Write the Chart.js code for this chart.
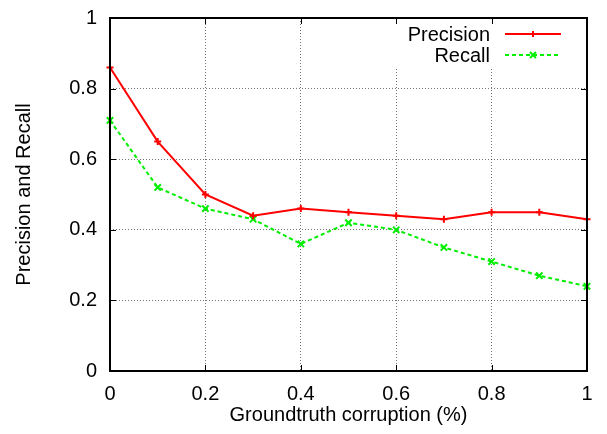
<!DOCTYPE html>
<html>
<head>
<meta charset="utf-8">
<script src="https://cdn.jsdelivr.net/npm/chart.js@4.4.1/dist/chart.umd.min.js"></script>
<style>
  html, body { margin: 0; padding: 0; background: #fff; }
  #wrap { width: 607px; height: 434px; }
</style>
</head>
<body>
<div id="wrap"><canvas id="prChart" width="607" height="434"></canvas></div>
<script>
// data
const corruption = [0, 0.1, 0.2, 0.3, 0.4, 0.5, 0.6, 0.7, 0.8, 0.9, 1.0];
const precision = [0.86, 0.65, 0.50, 0.44, 0.46, 0.45, 0.44, 0.43, 0.45, 0.45, 0.43];
const recall = [0.71, 0.52, 0.46, 0.43, 0.36, 0.42, 0.40, 0.35, 0.31, 0.27, 0.24];
const axisTicks = [0, 0.2, 0.4, 0.6, 0.8, 1];
const seriesNames = ['Precision', 'Recall'];

const FONT = '"Liberation Sans", Arial, Helvetica, sans-serif';
const RED = '#ff0000';
const GREEN = '#00ee00';

const toPoints = (ys) => corruption.map((x, i) => ({ x: x, y: ys[i] }));

// grid only inside, not on the frame
const gridColor = (ctx) => {
  const v = ctx.tick ? ctx.tick.value : null;
  return (v === 0 || v === 1) ? 'rgba(0,0,0,0)' : 'rgba(0,0,0,0.55)';
};

// gnuplot-ish frame, inward ticks and key box
const gnuplotFrame = {
  id: 'gnuplotFrame',
  beforeDatasetsDraw(chart) {
    const ctx = chart.ctx;
    const a = chart.chartArea;
    // key box hides the grid behind it
    ctx.save();
    ctx.fillStyle = '#fff';
    ctx.fillRect(392, a.top, a.right - 392, 67 - a.top);
    ctx.restore();
  },
  afterDraw(chart) {
    const ctx = chart.ctx;
    const a = chart.chartArea;
    const xs = chart.scales.x;
    const ys = chart.scales.y;
    const tl = 6;
    ctx.save();
    ctx.strokeStyle = '#000';
    ctx.lineWidth = 1;
    ctx.beginPath();
    axisTicks.forEach((t) => {
      const px = Math.round(xs.getPixelForValue(t)) + 0.5;
      ctx.moveTo(px, a.bottom); ctx.lineTo(px, a.bottom - tl);
      ctx.moveTo(px, a.top); ctx.lineTo(px, a.top + tl);
      const py = Math.round(ys.getPixelForValue(t)) + 0.5;
      ctx.moveTo(a.left, py); ctx.lineTo(a.left + tl, py);
      ctx.moveTo(a.right, py); ctx.lineTo(a.right - tl, py);
    });
    ctx.stroke();
    ctx.lineWidth = 2;
    ctx.strokeRect(Math.round(a.left), Math.round(a.top), Math.round(a.right - a.left), Math.round(a.bottom - a.top));

    // key
    ctx.font = '20px ' + FONT;
    ctx.fillStyle = '#000';
    ctx.textAlign = 'right';
    ctx.textBaseline = 'middle';
    const rows = [
      { name: seriesNames[0], y: 35, color: RED, dash: [], mark: 'plus' },
      { name: seriesNames[1], y: 56, color: GREEN, dash: [4, 3], mark: 'x' }
    ];
    rows.forEach((r) => {
      ctx.fillText(r.name, 490, r.y);
      ctx.strokeStyle = r.color;
      ctx.lineWidth = 2;
      ctx.setLineDash(r.dash);
      ctx.beginPath();
      ctx.moveTo(505, r.y - 1); ctx.lineTo(561, r.y - 1);
      ctx.stroke();
      ctx.setLineDash([]);
      ctx.beginPath();
      if (r.mark === 'plus') {
        ctx.moveTo(530, r.y - 1); ctx.lineTo(536, r.y - 1);
        ctx.moveTo(533, r.y - 4); ctx.lineTo(533, r.y + 2);
      } else {
        ctx.moveTo(530, r.y - 4); ctx.lineTo(536, r.y + 2);
        ctx.moveTo(530, r.y + 2); ctx.lineTo(536, r.y - 4);
      }
      ctx.stroke();
    });
    ctx.restore();
  }
};

const data = {
  datasets: [
    {
      label: seriesNames[0],
      data: toPoints(precision),
      borderColor: RED,
      backgroundColor: RED,
      borderWidth: 2,
      pointStyle: 'cross',
      pointRadius: 3.5,
      pointBorderWidth: 2,
      pointHoverRadius: 3.5,
      tension: 0,
      clip: false,
    },
    {
      label: seriesNames[1],
      data: toPoints(recall),
      borderColor: GREEN,
      backgroundColor: GREEN,
      borderWidth: 2,
      borderDash: [4, 3],
      pointStyle: 'crossRot',
      pointRadius: 4.5,
      pointBorderWidth: 2,
      pointHoverRadius: 4.5,
      tension: 0,
      clip: false,
    },
  ],
};

const options = {
  responsive: false,
  animation: false,
  events: [],
  layout: { padding: { left: 0, right: 20, top: 18, bottom: 0 } },
  plugins: {
    legend: { display: false },
    tooltip: { enabled: false },
  },
  scales: {
    x: {
      type: 'linear',
      min: 0,
      max: 1,
      afterFit: (s) => { s.height = 63; s.paddingLeft = 0; s.paddingRight = 0; },
      afterBuildTicks: (s) => { s.ticks = axisTicks.map((v) => ({ value: v })); },
      ticks: {
        color: '#000',
        font: { family: FONT, size: 20 },
        padding: 11,
        maxRotation: 0,
        callback: (v) => String(v),
      },
      grid: { color: gridColor, drawTicks: false, lineWidth: 1 },
      border: { display: false, dash: [1, 2] },
      title: {
        display: true,
        text: 'Groundtruth corruption (%)',
        color: '#000',
        font: { family: FONT, size: 20 },
        padding: { top: 0, bottom: 7 },
      },
    },
    y: {
      type: 'linear',
      min: 0,
      max: 1,
      afterFit: (s) => { s.width = 110; s.paddingTop = 0; s.paddingBottom = 0; },
      afterBuildTicks: (s) => { s.ticks = axisTicks.map((v) => ({ value: v })); },
      ticks: {
        color: '#000',
        font: { family: FONT, size: 20 },
        padding: 13,
        callback: (v) => String(v),
      },
      grid: { color: gridColor, drawTicks: false, lineWidth: 1 },
      border: { display: false, dash: [1, 2] },
      title: {
        display: true,
        text: 'Precision and Recall',
        color: '#000',
        font: { family: FONT, size: 20 },
        padding: { top: 12, bottom: 0 },
      },
    },
  },
};

new Chart(document.getElementById('prChart').getContext('2d'), {
  type: 'line',
  data,
  options,
  plugins: [gnuplotFrame],
});
</script>
</body>
</html>
